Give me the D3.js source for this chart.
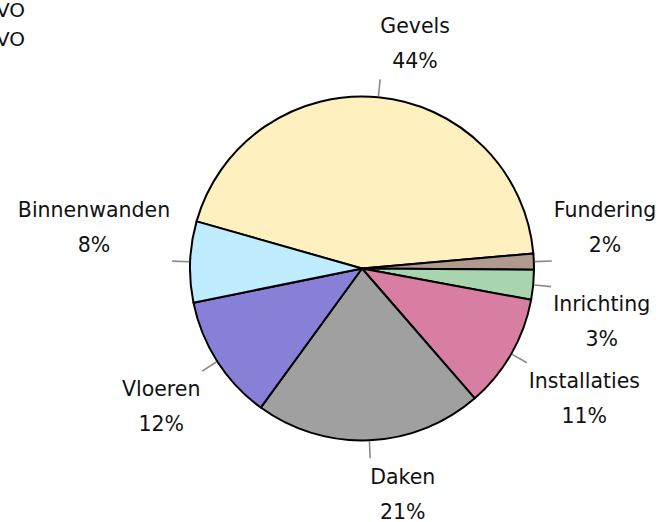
<!DOCTYPE html>
<html>
<head>
<meta charset="utf-8">
<script src="https://cdn.jsdelivr.net/npm/d3@7"></script>
<style>
    body { margin: 0; background: #fff; }
    text { font-family: "DejaVu Sans", sans-serif; fill: #111; }
</style>
</head>
<body>
<svg id="pie"></svg>
<script>
const categories = ["Gevels", "Fundering", "Inrichting", "Installaties", "Daken", "Vloeren", "Binnenwanden"];
const shares = [44.2, 1.5, 2.8, 10.7, 21.4, 11.8, 7.6];
const colors = ["#fff0c0", "#b09a90", "#a8d4b0", "#d87ea2", "#a0a0a0", "#8880d6", "#c0ecff"];
const cornerText = ["VO", "VO"];

const width = 665;
const height = 522;
const cx = 362, cy = 268.5;
const radius = 172;

const svg = d3.select("#pie")
    .attr("width", width)
    .attr("height", height);

// cut-off text in the top left corner
svg.selectAll(".corner")
    .data(cornerText)
    .enter()
    .append("text")
    .attr("class", "corner")
    .attr("x", 25)
    .attr("y", (d, i) => 17 + i * 29)
    .attr("text-anchor", "end")
    .attr("font-size", 20)
    .text(d => d);

const data = categories.map((c, i) => ({ name: c, value: shares[i], color: colors[i] }));

const startAngle = -74.1 * Math.PI / 180;
const pie = d3.pie()
    .sort(null)
    .value(d => d.value)
    .startAngle(startAngle)
    .endAngle(startAngle + 2 * Math.PI);

const arcs = pie(data);
const arc = d3.arc().innerRadius(0).outerRadius(radius);

const vis = svg.append("g").attr("transform", `translate(${cx}, ${cy})`);

vis.selectAll(".slice")
    .data(arcs)
    .enter()
    .append("path")
    .attr("class", "slice")
    .attr("d", arc)
    .attr("fill", d => d.data.color)
    .attr("stroke", "#000")
    .attr("stroke-width", 2)
    .attr("stroke-linejoin", "round");

const mid = d => (d.startAngle + d.endAngle) / 2;
const polar = (a, r) => [Math.sin(a) * r, -Math.cos(a) * r];

// leader ticks
vis.selectAll(".tick")
    .data(arcs)
    .enter()
    .append("line")
    .attr("class", "tick")
    .attr("x1", d => polar(mid(d), radius + 1)[0])
    .attr("y1", d => polar(mid(d), radius + 1)[1])
    .attr("x2", d => polar(mid(d), radius + 18)[0])
    .attr("y2", d => polar(mid(d), radius + 18)[1])
    .attr("stroke", "#8a8a8a")
    .attr("stroke-width", 1.6);

// labels: a two line block whose nearest corner sits at the label point
const labels = vis.selectAll(".label")
    .data(arcs)
    .enter()
    .append("g")
    .attr("class", "label");

labels.append("text")
    .attr("class", "name")
    .attr("text-anchor", "middle")
    .style("font-size", "20.5px")
    .text(d => d.data.name);

labels.append("text")
    .attr("class", "pct")
    .attr("text-anchor", "middle")
    .style("font-size", "20.5px")
    .text(d => Math.round(d.value) + "%");

labels.each(function(d) {
    const g = d3.select(this);
    const w = Math.max(
        g.select(".name").node().getComputedTextLength(),
        g.select(".pct").node().getComputedTextLength()
    );
    const a = mid(d);
    const [px, py] = polar(a, radius + 20);
    const x = Math.sin(a) >= 0 ? px + w / 2 : px - w / 2;
    const base1 = Math.cos(a) > 0 ? py - 8 - 36 : py + 24;
    g.select(".name").attr("x", x).attr("y", base1);
    g.select(".pct").attr("x", x).attr("y", base1 + 35);
});
</script>
</body>
</html>
